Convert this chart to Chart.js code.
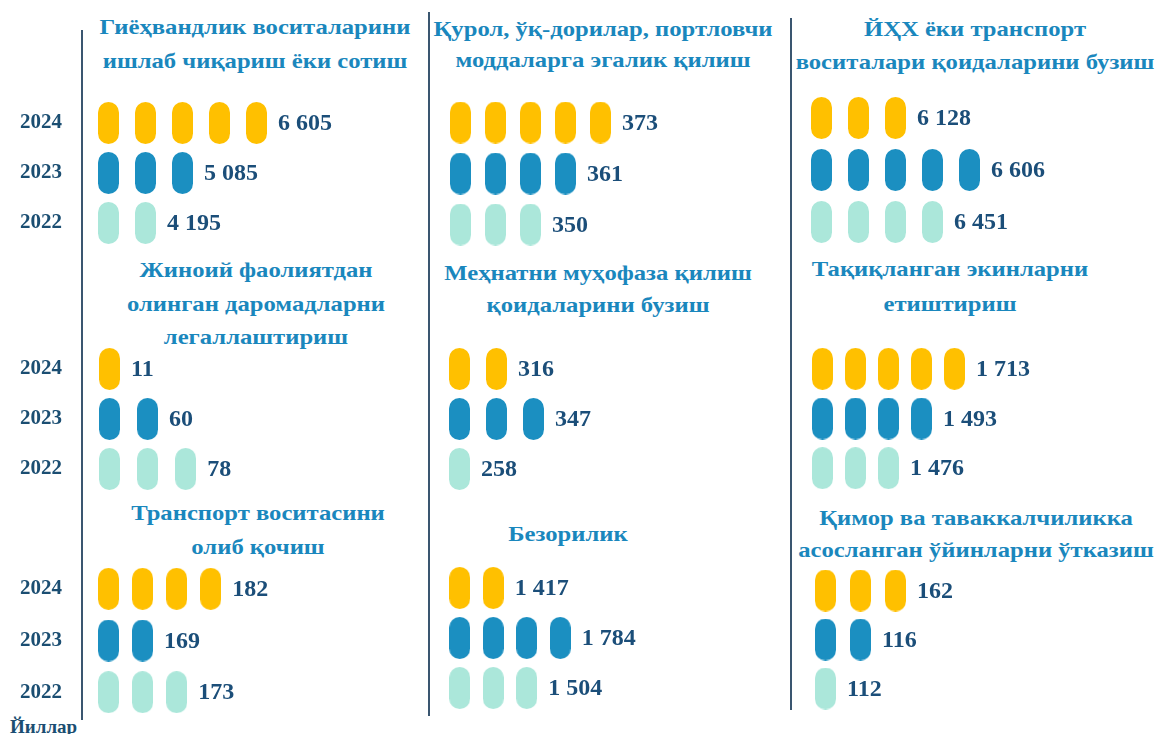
<!DOCTYPE html>
<html>
<head>
<meta charset="utf-8">
<script src="https://cdn.jsdelivr.net/npm/chart.js@4.4.1/dist/chart.umd.min.js"></script>
<style>
  html, body { margin: 0; padding: 0; background: #fff; }
  body { width: 1159px; height: 734px; position: relative; overflow: hidden;
         font-family: "Liberation Serif", "Times New Roman", serif; }
  .title { position: absolute; width: 440px; text-align: center; font-weight: bold;
           font-size: 22px; color: #1a87bd; white-space: nowrap;
           transform: scaleX(1.12); transform-origin: 50% 50%; }
  .rule { position: absolute; width: 2px; background: #3a5670; }
  .axis-name { position: absolute; left: 10px; top: 716px; font-weight: bold;
               font-size: 19px; color: #1b4e72; }
  canvas { position: absolute; }
</style>
</head>
<body>
<div class="rule" style="left:81px;top:30px;height:690px"></div>
<div class="rule" style="left:428px;top:12px;height:704px"></div>
<div class="rule" style="left:790px;top:18px;height:692px"></div>
<div class="axis-name">Йиллар</div>
<script>
const years = ['2024', '2023', '2022'];

const crimes = [
  ['Гиёҳвандлик воситаларини', 'ишлаб чиқариш ёки сотиш'],
  ['Қурол, ўқ-дорилар, портловчи', 'моддаларга эгалик қилиш'],
  ['ЙҲХ ёки транспорт', 'воситалари қоидаларини бузиш'],
  ['Жиноий фаолиятдан', 'олинган даромадларни', 'легаллаштириш'],
  ['Меҳнатни муҳофаза қилиш', 'қоидаларини бузиш'],
  ['Тақиқланган экинларни', 'етиштириш'],
  ['Транспорт воситасини', 'олиб қочиш'],
  ['Безорилик'],
  ['Қимор ва таваккалчиликка', 'асосланган ўйинларни ўтказиш']
];

const values2024 = [6605, 373, 6128, 11, 316, 1713, 182, 1417, 162];
const values2023 = [5085, 361, 6606, 60, 347, 1493, 169, 1784, 116];
const values2022 = [4195, 350, 6451, 78, 258, 1476, 173, 1504, 112];

const pills2024 = [5, 5, 3, 1, 2, 5, 4, 2, 3];
const pills2023 = [3, 4, 5, 2, 3, 4, 2, 4, 2];
const pills2022 = [2, 3, 4, 3, 1, 3, 3, 3, 1];

const yearColors = ['#ffc000', '#1b8fc1', '#abe7da'];

// where each panel sits on the page
const layout = [
  { px: 108.5, step: 37,   ry: 123, rstep: 50,   tx: 255, ty: 27,  tl: 34 },
  { px: 460,   step: 35,   ry: 122, rstep: 51,   tx: 603, ty: 28,  tl: 31 },
  { px: 821.5, step: 37,   ry: 118, rstep: 52,   tx: 975, ty: 28,  tl: 33 },
  { px: 109.5, step: 38,   ry: 369, rstep: 50,   tx: 256, ty: 270, tl: 33.5 },
  { px: 459.5, step: 37,   ry: 369, rstep: 50,   tx: 598, ty: 273, tl: 32 },
  { px: 822.5, step: 33,   ry: 369, rstep: 49.5, tx: 950, ty: 268, tl: 35 },
  { px: 108.5, step: 34,   ry: 589, rstep: 51.5, tx: 258, ty: 513, tl: 34 },
  { px: 460,   step: 33.5, ry: 588, rstep: 50,   tx: 568, ty: 533, tl: 33 },
  { px: 825,   step: 35,   ry: 590, rstep: 49,   tx: 976, ty: 518, tl: 32 }
];

const PILL_W = 21, PILL_H = 42;

function makePill(color) {
  const c = document.createElement('canvas');
  c.width = PILL_W;
  c.height = PILL_H;
  const g = c.getContext('2d');
  const r = PILL_W / 2;
  g.fillStyle = color;
  g.beginPath();
  g.arc(r, r, r, Math.PI, 0);
  g.lineTo(PILL_W, PILL_H - r);
  g.arc(r, PILL_H - r, r, 0, Math.PI);
  g.closePath();
  g.fill();
  return c;
}
const pillImgs = yearColors.map(makePill);

function fmt(v) {
  return String(v).replace(/\B(?=(\d{3})+(?!\d))/g, ' ');
}

const valueLabels = {
  id: 'valueLabels',
  afterDatasetsDraw(chart) {
    const ctx = chart.ctx;
    ctx.save();
    ctx.font = 'bold 24px "Liberation Serif", "Times New Roman", serif';
    ctx.fillStyle = '#1b4e79';
    ctx.textBaseline = 'middle';
    ctx.textAlign = 'left';
    chart.data.datasets.forEach((ds, d) => {
      const pts = chart.getDatasetMeta(d).data;
      const last = pts[pts.length - 1];
      ctx.fillText(fmt(ds.total), last.x + PILL_W / 2 + 11, last.y + 1);
    });
    ctx.restore();
  }
};

Chart.defaults.font.family = '"Liberation Serif", "Times New Roman", serif';

const pills = [pills2024, pills2023, pills2022];
const vals = [values2024, values2023, values2022];

crimes.forEach((lines, i) => {
  const L = layout[i];
  const isLeft = i % 3 === 0;

  const t = document.createElement('div');
  t.className = 'title';
  t.style.left = (L.tx - 220) + 'px';
  t.style.top = (L.ty - L.tl / 2) + 'px';
  t.style.lineHeight = L.tl + 'px';
  t.innerHTML = lines.join('<br>');
  document.body.appendChild(t);

  const axisW = isLeft ? L.px - L.step / 2 : 0;
  const w = Math.round(axisW + L.step * 8);
  const h = Math.round(L.rstep * 3);
  const cv = document.createElement('canvas');
  cv.width = w;
  cv.height = h;
  cv.style.width = w + 'px';
  cv.style.height = h + 'px';
  cv.style.left = (isLeft ? 0 : L.px - L.step / 2) + 'px';
  cv.style.top = (L.ry - L.rstep / 2) + 'px';
  document.body.appendChild(cv);

  const datasets = years.map((yr, r) => ({
    label: yr,
    total: vals[r][i],
    data: Array.from({ length: pills[r][i] }, (_, k) => ({ x: k + 1, y: yr })),
    pointStyle: pillImgs[r],
    pointRadius: 5,
    clip: 30
  }));

  new Chart(cv, {
    type: 'scatter',
    data: { datasets },
    options: {
      responsive: false,
      animation: false,
      events: [],
      layout: { padding: 0, autoPadding: false },
      plugins: { legend: { display: false }, tooltip: { enabled: false } },
      scales: {
        x: { type: 'linear', min: 0.5, max: 8.5, display: false },
        y: {
          type: 'category',
          labels: years,
          offset: true,
          display: isLeft,
          grid: { display: false, drawTicks: false },
          border: { display: false },
          ticks: {
            padding: Math.max(0, axisW - 62),
            color: '#1b4e72',
            font: { size: 21, weight: 'bold' }
          },
          afterFit: s => {
            s.width = axisW;
            s.paddingTop = 0;
            s.paddingBottom = 0;
          }
        }
      }
    },
    plugins: [valueLabels]
  });
});
</script>
</body>
</html>
